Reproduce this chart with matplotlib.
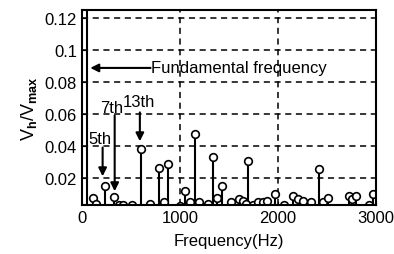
import numpy as np
import matplotlib
matplotlib.use('Agg')
import matplotlib.pyplot as plt

plt.rcParams['font.family'] = ['Liberation Sans', 'DejaVu Sans']
plt.rcParams['mathtext.fontset'] = 'custom'
plt.rcParams['mathtext.rm'] = 'Liberation Sans'
plt.rcParams['mathtext.bf'] = 'Liberation Sans:bold'

# harmonic spectrum (fundamental is off scale)
freq = [50, 110, 144, 240, 327, 374, 419, 512, 601, 694, 784, 835, 883,
        1003, 1055, 1100, 1151, 1193, 1286, 1337, 1381, 1433, 1519, 1598,
        1639, 1673, 1691, 1742, 1794, 1845, 1890, 1966, 2062, 2155, 2206,
        2258, 2333, 2423, 2464, 2515, 2722, 2756, 2801, 2928, 2969]
mag = [1.0, 0.0073, 0.0037, 0.0151, 0.0079, 0.003, 0.003, 0.003, 0.0383,
       0.0037, 0.026, 0.0048, 0.0286, 0.0027, 0.012, 0.005, 0.0472, 0.0048,
       0.0037, 0.0333, 0.0073, 0.0151, 0.0048, 0.0068, 0.0058, 0.004,
       0.0306, 0.003, 0.005, 0.005, 0.006, 0.0099, 0.003, 0.0089, 0.0068,
       0.0058, 0.0048, 0.0259, 0.0048, 0.0073, 0.0089, 0.0068, 0.0089,
       0.003, 0.0099]
yticks = [0.02, 0.04, 0.06, 0.08, 0.1, 0.12]
yticklabels = ['0.02', '0.04', '0.06', '0.08', '0.1', '0.12']
xticks = [0, 1000, 2000, 3000]

fig = plt.figure(figsize=(3.94, 2.55), dpi=100)
ax = fig.add_axes([0.208, 0.192, 0.746, 0.765])

ml, sl, bl = ax.stem(freq, mag, linefmt='k-', markerfmt='ko', basefmt=' ')
plt.setp(sl, linewidth=1.5)
plt.setp(ml, markersize=5.5, markerfacecolor='white', markeredgecolor='k',
         markeredgewidth=1.2)

ax.set_xlim(0, 3000)
ax.set_ylim(0.0032, 0.1247)
ax.set_xticks(xticks)
ax.set_yticks(yticks)
ax.set_yticklabels(yticklabels)
ax.tick_params(direction='in', length=3, labelsize=12, colors='k')
ax.grid(True, color='k', linestyle=(0, (4, 3)), linewidth=1.1)
for s in ax.spines.values():
    s.set_linewidth(1.5)

ax.set_xlabel('Frequency(Hz)', fontsize=12, labelpad=6)
ax.set_ylabel(r'$\mathrm{V}_{\mathbf{h}}/\mathrm{V}_{\mathbf{max}}$', fontsize=13, labelpad=4)

arrow = dict(arrowstyle='-|>', color='k', lw=1.5, mutation_scale=12, shrinkA=0, shrinkB=0)
ax.annotate('', xy=(85, 0.0886), xytext=(700, 0.0886), arrowprops=arrow)
ax.text(700, 0.0886, 'Fundamental frequency', fontsize=12, ha='left', va='center')

ax.text(180, 0.0447, '5th', fontsize=12, ha='center', va='center')
ax.annotate('', xy=(211, 0.0211), xytext=(211, 0.039), arrowprops=arrow)
ax.text(304, 0.064, '7th', fontsize=12, ha='center', va='center')
ax.annotate('', xy=(334, 0.0118), xytext=(334, 0.059), arrowprops=arrow)
ax.text(581, 0.0677, '13th', fontsize=12, ha='center', va='center')
ax.annotate('', xy=(591, 0.0429), xytext=(591, 0.0609), arrowprops=arrow)

fig.savefig('out.png', dpi=100)
